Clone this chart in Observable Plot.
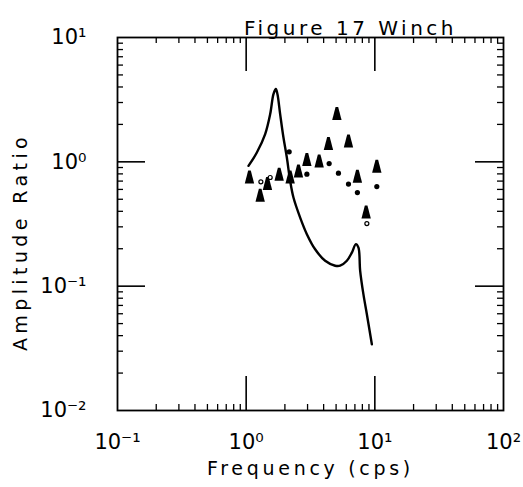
<!DOCTYPE html>
<html>
<head>
<meta charset="utf-8">
<script src="https://cdn.jsdelivr.net/npm/d3@7"></script>
<script src="https://cdn.jsdelivr.net/npm/@observablehq/plot@0.6"></script>
<style>
  html, body { margin: 0; padding: 0; background: #fff; }
  #chart svg { font-family: "DejaVu Sans", sans-serif; }
</style>
</head>
<body>
<div id="chart"></div>
<script>
// Computed amplitude ratio of the winch (solid curve)
const curveFreq = [1.042, 1.211, 1.405, 1.537, 1.630, 1.701, 1.751, 1.837, 1.949, 2.071, 2.197, 2.331, 2.628, 2.963, 3.436, 4.11, 4.915, 5.375, 6.06, 6.63, 7.12, 7.46, 7.69, 8.15, 8.67, 9.48];
const curveAmp  = [0.929, 1.188, 1.671, 2.42, 3.50, 3.85, 3.50, 2.42, 1.569, 1.083, 0.703, 0.516, 0.356, 0.262, 0.198, 0.160, 0.146, 0.146, 0.160, 0.186, 0.218, 0.204, 0.133, 0.0862, 0.0595, 0.0341];

// Measured points, filled triangles
const triFreq = [1.061, 1.285, 1.464, 1.805, 2.197, 2.550, 2.963, 3.692, 4.36, 5.07, 6.24, 7.32, 10.36, 8.56];
const triAmp  = [0.748, 0.533, 0.662, 0.786, 0.748, 0.836, 1.032, 1.006, 1.388, 2.42, 1.457, 0.758, 0.912, 0.391];

// Measured points, filled dots
const dotFreq = [2.159, 2.963, 4.415, 5.215, 6.24, 7.32, 10.36];
const dotAmp  = [1.204, 0.796, 0.969, 0.811, 0.662, 0.566, 0.633];

// Measured points, open circles
const ringFreq = [1.301, 1.537, 8.67];
const ringAmp  = [0.690, 0.748, 0.319];

// Axis decades and labels
const xDecades = [0.1, 1, 10, 100];
const yDecades = [0.01, 0.1, 1, 10];
const titleText = "Figure 17 Winch";
const xLabel = "Frequency (cps)";
const yLabel = "Amplitude Ratio";

const W = 523, H = 487;
const mL = 117, mR = 20, mT = 37, mB = 77;
const innerW = W - mL - mR, innerH = H - mT - mB;

const curve = curveFreq.map((f, i) => ({f, a: curveAmp[i]}));
const tris = triFreq.map((f, i) => ({f, a: triAmp[i]}));
const dots = dotFreq.map((f, i) => ({f, a: dotAmp[i]}));
const rings = ringFreq.map((f, i) => ({f, a: ringAmp[i]}));

// minor ticks 2..9 within each decade
const minors = decs => decs.slice(0, -1).flatMap(d => d3.range(2, 10).map(k => d * k));
const xMinor = minors(xDecades), yMinor = minors(yDecades);
const xInner = xDecades.slice(1, -1), yInner = yDecades.slice(1, -1);

const supMap = {"-": "\u207B", "0": "\u2070", "1": "\u00B9", "2": "\u00B2", "3": "\u00B3"};
const sup = v => "10" + String(Math.round(Math.log10(v))).split("").map(c => supMap[c]).join("");

// tall cone-like triangle marker
const cone = {
  draw(ctx, size) {
    const r = Math.sqrt(size / Math.PI);
    ctx.moveTo(-0.25 * r, -1.35 * r);
    ctx.lineTo(0.25 * r, -1.35 * r);
    ctx.lineTo(0.9 * r, 1.15 * r);
    ctx.lineTo(-0.9 * r, 1.15 * r);
    ctx.closePath();
  }
};

const majorLen = 34, horizMajorLen = 28, minorLen = 6;

const chart = Plot.plot({
  width: W, height: H,
  marginLeft: mL, marginRight: mR, marginTop: mT, marginBottom: mB,
  x: {type: "log", domain: [0.1, 100]},
  y: {type: "log", domain: [0.01, 10]},
  marks: [
    Plot.frame({stroke: "black", strokeWidth: 1.8}),
    // interior decade ticks
    Plot.ruleX(xInner, {x: d => d, insetTop: innerH - majorLen, strokeWidth: 1.6}),
    Plot.ruleX(xInner, {x: d => d, insetBottom: innerH - majorLen, strokeWidth: 1.6}),
    Plot.ruleY(yInner, {y: d => d, insetRight: innerW - horizMajorLen, strokeWidth: 1.6}),
    Plot.ruleY(yInner, {y: d => d, insetLeft: innerW - horizMajorLen, strokeWidth: 1.6}),
    // minor ticks
    Plot.ruleX(xMinor, {x: d => d, insetTop: innerH - minorLen, strokeWidth: 1.3}),
    Plot.ruleX(xMinor, {x: d => d, insetBottom: innerH - minorLen, strokeWidth: 1.3}),
    Plot.ruleY(yMinor, {y: d => d, insetRight: innerW - minorLen, strokeWidth: 1.3}),
    Plot.ruleY(yMinor, {y: d => d, insetLeft: innerW - minorLen, strokeWidth: 1.3}),
    // tick labels
    Plot.axisX(xDecades, {anchor: "bottom", tickSize: 0, tickPadding: 24, fontSize: 21, tickFormat: sup, label: null}),
    Plot.axisY(yDecades, {anchor: "left", tickSize: 0, tickPadding: 31, fontSize: 21, tickFormat: sup, label: null}),
    // data
    Plot.line(curve, {x: "f", y: "a", curve: "catmull-rom", stroke: "black", strokeWidth: 2.4}),
    Plot.dot(tris, {x: "f", y: "a", symbol: cone, r: 5.2, fill: "black", stroke: "none"}),
    Plot.dot(dots, {x: "f", y: "a", r: 2.6, fill: "black", stroke: "none"}),
    Plot.dot(rings, {x: "f", y: "a", r: 2, fill: "white", stroke: "black", strokeWidth: 1.2}),
    // titles
    Plot.text([titleText], {text: d => d, frameAnchor: "top", textAnchor: "middle", dx: 40, dy: -17, fontSize: 20, fill: "black"}),
    Plot.text([xLabel], {text: d => d, frameAnchor: "bottom", textAnchor: "middle", dx: 0, dy: 64, fontSize: 19, fill: "black"}),
    Plot.text([yLabel], {text: d => d, frameAnchor: "left", textAnchor: "middle", dx: -97, dy: 18, rotate: -90, fontSize: 19, fill: "black"})
  ]
});

// widen the spacing of the title and axis titles
const spacing = {[titleText]: "3.5px", [xLabel]: "3.7px", [yLabel]: "4.4px"};
d3.select(chart).selectAll("text")
  .filter(function () { return this.textContent in spacing; })
  .style("letter-spacing", function () { return spacing[this.textContent]; });

document.getElementById("chart").append(chart);
</script>
</body>
</html>
